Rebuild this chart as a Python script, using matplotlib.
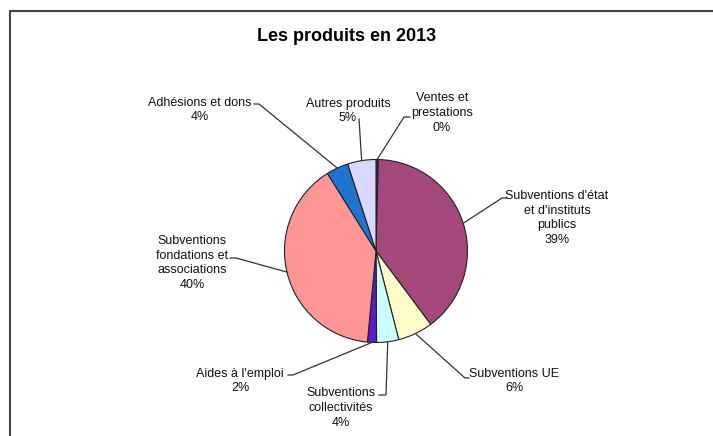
import numpy as np
import matplotlib.pyplot as plt
from matplotlib.lines import Line2D

plt.rcParams['font.family'] = ['Liberation Sans', 'DejaVu Sans']

labels = ["Ventes et\nprestations", "Subventions d'état\net d'instituts\npublics",
          "Subventions UE", "Subventions\ncollectivités", "Aides à l'emploi",
          "Subventions\nfondations et\nassociations", "Adhésions et dons", "Autres produits"]
values = [0.4, 39.4, 6.2, 3.9, 1.6, 39.6, 3.9, 5.0]
colors = ['#333366', '#A4477A', '#FFFFCC', '#CCFFFF', '#5A1EC8', '#FF9696', '#1E74D0', '#D8D8FF']

# label layout in pixel coords (y from top): text centre, knee of leader, end of leader
text_pos = [(442, 113), (557, 218), (514, 381), (341, 408), (240, 381), (192, 263), (200, 110), (348, 111)]
knees = [(404, 117), (502, 198), (465, 378), (386, 395), (293, 375), (236, 258), (259, 104), (359, 119)]
ends = [(410, 117), (507, 198), (469, 378), (379, 395), (288, 375), (230, 258), (254, 104), (359, 119)]

W, H = 713, 436
cx, cy, r = 376, 251, 91.5

fig = plt.figure(figsize=(W / 100, H / 100), dpi=100)
ax = fig.add_axes([0, 0, 1, 1])

wedges, _ = ax.pie(values, colors=colors, startangle=90, counterclock=False,
                   center=(cx, H - cy), radius=r, frame=True,
                   wedgeprops=dict(edgecolor='#222222', linewidth=0.8))
ax.set_xlim(0, W)
ax.set_ylim(0, H)
ax.axis('off')

for w, lab, v, tp, kn, en in zip(wedges, labels, values, text_pos, knees, ends):
    ang = np.deg2rad((w.theta1 + w.theta2) / 2)
    px = cx + r * np.cos(ang)
    py = (H - cy) + r * np.sin(ang)
    ax.add_line(Line2D([px, kn[0], en[0]], [py, H - kn[1], H - en[1]],
                       color='#333333', lw=0.9))
    ax.text(tp[0], H - tp[1], f"{lab}\n{round(v)}%", ha='center', va='center',
            fontsize=9, linespacing=1.32, color='#111111')

ax.text(347, H - 36, "Les produits en 2013", ha='center', va='center',
        fontsize=13, fontweight='bold')

# frame of the chart area
ax.add_line(Line2D([10, 10, W + 5], [-5, H - 11, H - 11], color='#444444', lw=1.5))

fig.savefig('out.png', dpi=100)
